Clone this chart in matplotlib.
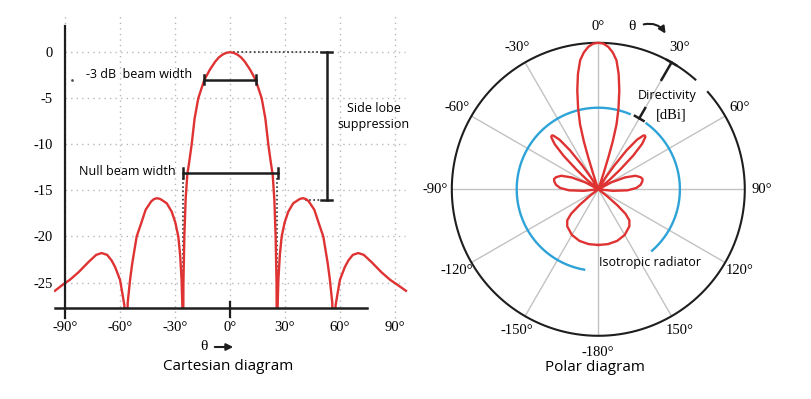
import numpy as np
import matplotlib
matplotlib.use('Agg')
import matplotlib.pyplot as plt

RED = '#df3232'
BLUE = '#2ea3d8'
INK = '#1e1e1e'
GRID = '#b8b8b8'
SERIF = 'Liberation Serif'
SANS = 'Open Sans'

# ---------------- data ----------------
# cartesian diagram: angle (deg) -> gain (dB), nulls pushed below the axis
cart_deg = [-95.5, -91, -87.3, -82.7, -77.3, -73, -70, -67, -64.6, -62.7, -60,
            -58.6, -57.6, -56.8, -55.8, -54.5, -53.3, -50.9, -48.5, -46, -43,
            -41.5, -40, -38.5, -37.5, -34.5, -31.8, -29.8, -28.2, -27.2, -26.4,
            -26.0, -25.7, -25.4, -24.9, -24.2, -23.3, -22.3, -20.9, -19.3,
            -17.3, -14, -11, -8, -6, -4, -2,
            0, 2, 4, 6, 8, 11, 14, 17.3, 19.3, 20.9, 22.3, 23.3, 24.2, 24.9,
            25.4, 25.7, 26.0, 26.4, 27.2, 28.2, 29.8, 31.8, 34.5, 37.5, 38.5,
            40, 41.5, 43, 46, 48.5, 50.9, 53.3, 54.5, 55.8, 56.8, 57.6, 58.6,
            60, 62.7, 64.6, 67, 70, 73, 77.3, 82.7, 87.3, 91, 96]
cart_db = [-25.9, -25.2, -24.7, -23.9, -22.8, -22.0, -21.8, -22.0, -22.6,
           -23.3, -24.7, -26.3, -27.5, -40, -27.2, -24.7, -22.9, -20.0, -18.6,
           -17.1, -16.2, -15.95, -15.85, -15.9, -16.0, -16.4, -17.3, -18.5,
           -20.0, -22.0, -24.7, -27.5, -40, -25.0, -20.0, -16.0, -13.3, -12.0,
           -10.0, -7.2, -5.0, -3.0, -1.9, -1.0, -0.55, -0.25, -0.06,
           0, -0.06, -0.25, -0.55, -1.0, -1.9, -3.0, -5.0, -7.2, -10.0, -12.0,
           -13.3, -16.0, -20.0, -25.0, -40, -27.5, -24.7, -22.0, -20.0, -18.5,
           -17.3, -16.4, -16.0, -15.9, -15.85, -15.95, -16.2, -17.1, -18.6,
           -20.0, -22.9, -24.7, -27.2, -40, -27.5, -26.3, -24.7, -23.3, -22.6,
           -22.0, -21.8, -22.0, -22.8, -23.9, -24.7, -25.2, -25.9]

cart_xticks = [-90, -60, -30, 0, 30, 60, 90]
cart_xlabels = ['-90°', '-60°', '-30°', '0°', '30°', '60°', '90°']
cart_yticks = [0, -5, -10, -15, -20, -25]
cart_ylabels = ['0', '-5', '-10', '-15', '-20', '-25']

# polar diagram: angle (deg, clockwise from top) -> relative radius
pol_deg = [-180, -170, -160, -150, -140, -135, -132, -130, -128, -126,
           -100, -96, -92, -88, -84, -80, -77, -74, -70, -66, -62, -58,
           -52, -50, -48, -46, -44, -42, -41, -40, -38, -36, -34, -32, -30,
           -19.3, -18.8, -18.2, -17.5, -16.8, -15.7, -14, -12, -10, -8, -6,
           -4, -2,
           0, 2, 4, 6, 8, 10, 12, 14, 15.7, 16.8, 17.5, 18.2, 18.8, 19.3,
           30, 32, 34, 36, 38, 40, 41, 42, 44, 46, 48, 50, 52,
           58, 62, 66, 70, 74, 77, 80, 84, 88, 92, 96, 100,
           126, 128, 130, 132, 135, 140, 150, 160, 170, 180]
pol_r = [0.38, 0.38, 0.375, 0.36, 0.33, 0.30, 0.25, 0.17, 0.08, 0,
         0, 0.1, 0.2, 0.26, 0.29, 0.305, 0.31, 0.30, 0.27, 0.20, 0.10, 0,
         0, 0.1, 0.2, 0.33, 0.43, 0.48, 0.485, 0.48, 0.43, 0.33, 0.2, 0.1, 0,
         0, 0.05, 0.12, 0.23, 0.34, 0.46, 0.57, 0.69, 0.80, 0.89, 0.94,
         0.975, 0.995,
         1.0, 0.995, 0.975, 0.94, 0.89, 0.80, 0.69, 0.57, 0.46, 0.34, 0.23,
         0.12, 0.05, 0,
         0, 0.1, 0.2, 0.33, 0.43, 0.48, 0.485, 0.48, 0.43, 0.33, 0.2, 0.1, 0,
         0, 0.10, 0.20, 0.27, 0.30, 0.31, 0.305, 0.29, 0.26, 0.2, 0.1, 0,
         0, 0.08, 0.17, 0.25, 0.30, 0.33, 0.36, 0.375, 0.38, 0.38]

pol_angles = [0, 30, 60, 90, 120, 150, 180, 210, 240, 270, 300, 330]
pol_labels = ['0°', '30°', '60°', '90°', '120°', '150°', '-180°',
              '-150°', '-120°', '-90°', '-60°', '-30°']
iso_r = 0.557


def fpx(x, y):
    # figure pixels (from top-left) -> figure fraction
    return x / 811, 1 - y / 399


fig = plt.figure(figsize=(8.11, 3.99), dpi=100)

#################### Cartesian diagram ####################
ax = fig.add_axes([54 / 811, 1 - 308.3 / 399, 353.8 / 811, 292.9 / 399])
ax.set_xlim(-96, 97)
ax.set_ylim(-27.8, 4)
for s in ax.spines.values():
    s.set_visible(False)

for gx in cart_xticks:
    ax.plot([gx, gx], [-28.8, 4], ls=(0, (1, 3)), color=GRID, lw=1, clip_on=False, zorder=1)
for gy in cart_yticks:
    ax.plot([-90, 95.5], [gy, gy], ls=(0, (1, 3)), color=GRID, lw=1, zorder=1)

ax.plot(cart_deg, cart_db, color=RED, lw=1.7, zorder=3)

# axes lines
ax.plot([-90, -90], [-28.8, 2.9], color=INK, lw=1.6, clip_on=False, zorder=4)
ax.plot([-95.5, 75], [-27.8, -27.8], color=INK, lw=1.8, clip_on=False, zorder=4)
ax.plot([0, 0], [-27.1, -28.7], color=INK, lw=1.6, clip_on=False, zorder=4)

ax.set_xticks(cart_xticks, labels=cart_xlabels)
ax.set_yticks(cart_yticks, labels=cart_ylabels)
ax.tick_params(length=0, labelsize=10.5)
ax.tick_params(axis='x', pad=9)
ax.tick_params(axis='y', pad=1)
for lab in ax.get_xticklabels() + ax.get_yticklabels():
    lab.set_fontfamily(SERIF)

# beam width brackets
ax.plot([-14, 14], [-3, -3], color=INK, lw=1.8, zorder=5)
for cx in (-14, 14):
    ax.plot([cx, cx], [-3.5, -2.5], color=INK, lw=1.8, zorder=5)
ax.plot([-25.7, 26], [-13.1, -13.1], color=INK, lw=1.8, zorder=5)
for cx in (-25.7, 26):
    ax.plot([cx, cx], [-13.6, -12.6], color=INK, lw=1.8, zorder=5)
ax.plot([-25.8, -25.8], [-13.6, -27.8], ls=(0, (1, 1.5)), color='#333333', lw=1.2, zorder=2)
ax.plot([25.5, 25.5], [-13.6, -27.8], ls=(0, (1, 1.5)), color='#333333', lw=1.2, zorder=2)

# side lobe suppression bar
ax.plot([52.7, 52.7], [0, -16], color=INK, lw=1.8, zorder=5)
for cy in (0, -16):
    ax.plot([49.6, 55.8], [cy, cy], color=INK, lw=1.8, zorder=5)
ax.plot([1.5, 49.5], [0, 0], ls=(0, (1, 1.5)), color='#333333', lw=1.2, zorder=2)
ax.plot([41, 49.5], [-16, -16], ls=(0, (1, 1.5)), color='#333333', lw=1.2, zorder=2)

ax.plot([-86], [-3.0], marker='.', ms=2, color='#555555')
ax.text(-78.5, -2.45, '-3 dB  beam width', ha='left', va='center', fontsize=9, family=SANS)
ax.text(-82.4, -12.9, 'Null beam width', ha='left', va='center', fontsize=9, family=SANS)
ax.text(78.5, -7.0, 'Side lobe\nsuppression', ha='center', va='center', fontsize=9,
        family=SANS, linespacing=1.35)

fig.text(*fpx(204, 347), 'θ', ha='center', va='center', fontsize=11, family=SERIF)
fig.add_artist(matplotlib.patches.FancyArrowPatch(
    fpx(212, 347), fpx(236, 347), transform=fig.transFigure,
    arrowstyle='-|>', mutation_scale=10, color=INK, lw=1.5))
fig.text(*fpx(228, 367), 'Cartesian diagram', ha='center', va='center', fontsize=11, family=SANS)

#################### Polar diagram ####################
pax = fig.add_axes([451.8 / 811, 1 - 335.8 / 399, 293 / 811, 293 / 399], projection='polar')
pax.set_theta_zero_location('N')
pax.set_theta_direction(-1)
pax.set_ylim(0, 1)
pax.set_yticks([])
pax.spines['polar'].set_visible(False)
pax.set_thetagrids(pol_angles, labels=pol_labels, fontsize=10.5, family=SERIF)
pax.tick_params(axis='x', pad=1.5)
pax.grid(color='#c2c2c2', lw=1)

t_out = np.deg2rad(np.linspace(48.4, 41.5 + 360, 500))
pax.plot(t_out, np.ones_like(t_out), color=INK, lw=1.5, clip_on=False)
for a0, a1 in ((36.2, 138.8), (190, 382.6)):
    t = np.deg2rad(np.linspace(a0, a1, 300))
    pax.plot(t, np.full_like(t, iso_r), color=BLUE, lw=1.7)

pax.plot(np.deg2rad(pol_deg), pol_r, color=RED, lw=1.7, clip_on=False, zorder=4)

# directivity dimension marks
a30 = np.deg2rad(30)
pax.plot([a30, a30], [0.863, 1.0], color=INK, lw=1.8, clip_on=False)
pax.plot(np.deg2rad([28, 32]), [1.0, 1.0], color=INK, lw=1.8, clip_on=False)
pax.plot([a30, a30], [0.56, 0.64], color=INK, lw=1.8)
pax.plot(np.deg2rad([26.5, 33.5]), [0.56, 0.56], color=INK, lw=1.8)

fig.text(*fpx(666.7, 95), 'Directivity', ha='center', va='center', fontsize=9, family=SANS)
fig.text(*fpx(670.8, 115), '[dBi]', ha='center', va='center', fontsize=10.5, family=SERIF)
fig.text(*fpx(650, 262.3), 'Isotropic radiator', ha='center', va='center', fontsize=9, family=SANS)
fig.text(*fpx(632.3, 26.7), 'θ', ha='center', va='center', fontsize=11, family=SERIF)
fig.add_artist(matplotlib.patches.FancyArrowPatch(
    fpx(641, 25), fpx(667, 36), transform=fig.transFigure,
    connectionstyle='arc3,rad=-0.4', arrowstyle='-|>', mutation_scale=10, color=INK, lw=1.5))
fig.text(*fpx(595, 367.3), 'Polar diagram', ha='center', va='center', fontsize=11, family=SANS)

fig.savefig('out.png', dpi=100)
